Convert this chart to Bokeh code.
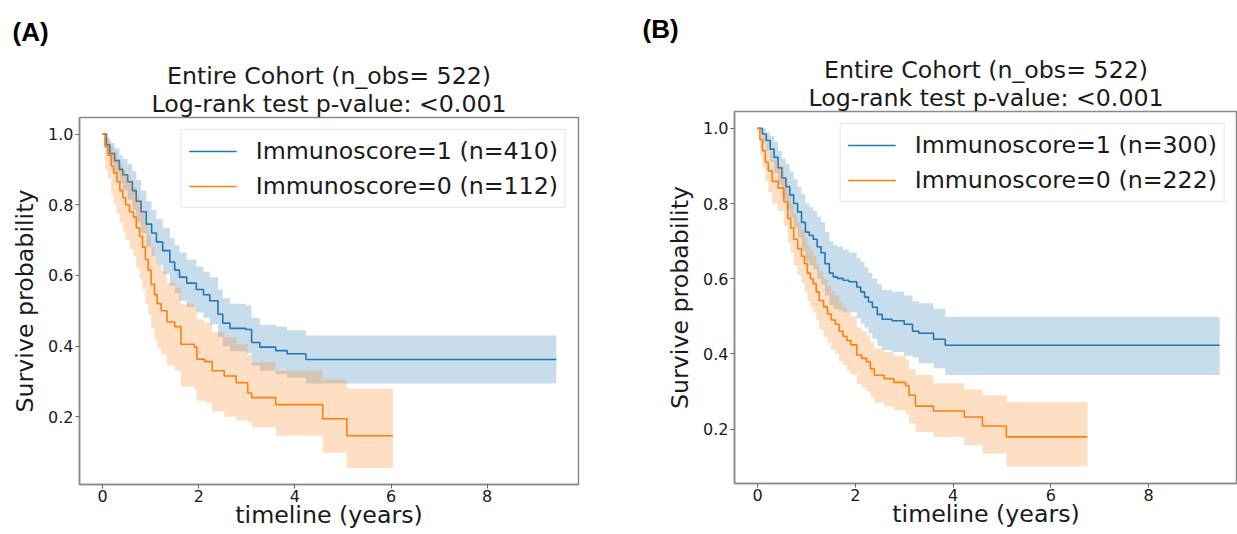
from bokeh.plotting import figure
from bokeh.models import Range1d, Title, Legend, LegendItem
from bokeh.layouts import row
from bokeh.embed import file_html
from bokeh.resources import INLINE

BLUE = "#1f77b4"
ORANGE = "#ff7f0e"
FONT = "DejaVu Sans"

# ---------------- Panel A data (years, survival probability) ----------------
a1_t = [0, 0.08, 0.15, 0.25, 0.35, 0.42, 0.52, 0.62, 0.70, 0.80, 0.91, 1.02, 1.12, 1.25, 1.40, 1.50, 1.60,
        1.75, 1.95, 2.10, 2.23, 2.40, 2.50, 2.65, 2.98, 3.10, 3.27, 3.60, 3.84, 4.23, 9.44]
a1_s = [1.0, 0.97, 0.945, 0.925, 0.90, 0.885, 0.865, 0.84, 0.81, 0.78, 0.745, 0.72, 0.695, 0.67, 0.638, 0.615,
        0.595, 0.578, 0.56, 0.545, 0.528, 0.49, 0.465, 0.45, 0.447, 0.41, 0.397, 0.387, 0.378, 0.362, 0.362]
a1_hi = [1.0, 0.99, 0.975, 0.96, 0.94, 0.93, 0.915, 0.895, 0.87, 0.84, 0.81, 0.785, 0.76, 0.735, 0.705, 0.685,
         0.665, 0.645, 0.625, 0.61, 0.595, 0.56, 0.535, 0.52, 0.515, 0.48, 0.46, 0.455, 0.445, 0.43, 0.43]
a1_lo = [1.0, 0.95, 0.915, 0.89, 0.86, 0.84, 0.815, 0.785, 0.75, 0.72, 0.68, 0.655, 0.63, 0.605, 0.57, 0.55,
         0.528, 0.51, 0.495, 0.48, 0.462, 0.425, 0.40, 0.385, 0.38, 0.345, 0.33, 0.32, 0.31, 0.294, 0.294]

a0_t = [0, 0.05, 0.11, 0.18, 0.23, 0.30, 0.36, 0.42, 0.48, 0.56, 0.64, 0.70, 0.77, 0.83, 0.89, 0.95, 1.01, 1.08,
        1.135, 1.22, 1.34, 1.50, 1.63, 1.91, 1.96, 2.12, 2.28, 2.53, 2.78, 3.02, 3.10, 3.60, 4.58, 5.08, 6.04]
a0_s = [1.0, 0.965, 0.94, 0.91, 0.89, 0.865, 0.84, 0.82, 0.80, 0.78, 0.765, 0.735, 0.71, 0.68, 0.645, 0.615,
        0.575, 0.545, 0.52, 0.50, 0.468, 0.455, 0.405, 0.397, 0.363, 0.356, 0.33, 0.315, 0.296, 0.267, 0.254,
        0.234, 0.194, 0.146, 0.146]
a0_hi = [1.0, 1.0, 0.985, 0.965, 0.95, 0.93, 0.915, 0.90, 0.885, 0.865, 0.85, 0.825, 0.80, 0.775, 0.745, 0.715,
         0.68, 0.655, 0.63, 0.61, 0.58, 0.565, 0.52, 0.51, 0.475, 0.465, 0.44, 0.425, 0.405, 0.375, 0.355,
         0.33, 0.305, 0.28, 0.28]
a0_lo = [1.0, 0.90, 0.875, 0.83, 0.80, 0.775, 0.75, 0.725, 0.70, 0.675, 0.655, 0.62, 0.59, 0.56, 0.52, 0.49,
         0.45, 0.42, 0.395, 0.375, 0.345, 0.33, 0.285, 0.275, 0.245, 0.24, 0.215, 0.20, 0.19, 0.185, 0.17,
         0.146, 0.098, 0.055, 0.055]

# ---------------- Panel B data ----------------
b1_t = [0, 0.10, 0.18, 0.26, 0.34, 0.42, 0.50, 0.58, 0.66, 0.74, 0.82, 0.90, 0.98, 1.06, 1.14, 1.22, 1.30,
        1.38, 1.47, 1.55, 1.63, 1.75, 1.87, 2.03, 2.11, 2.19, 2.27, 2.35, 2.45, 2.55, 2.75, 3.0, 3.17, 3.30,
        3.60, 3.84, 9.45]
b1_s = [1.0, 0.985, 0.968, 0.945, 0.923, 0.895, 0.868, 0.845, 0.823, 0.80, 0.778, 0.75, 0.724, 0.715, 0.705,
        0.685, 0.669, 0.64, 0.615, 0.605, 0.601, 0.596, 0.592, 0.578, 0.565, 0.551, 0.538, 0.524, 0.505, 0.492,
        0.488, 0.479, 0.46, 0.455, 0.439, 0.423, 0.423]
b1_hi = [1.0, 1.0, 0.99, 0.98, 0.965, 0.94, 0.92, 0.905, 0.885, 0.865, 0.845, 0.825, 0.80, 0.79, 0.78, 0.765,
         0.75, 0.725, 0.70, 0.69, 0.685, 0.678, 0.67, 0.655, 0.645, 0.63, 0.615, 0.60, 0.585, 0.57, 0.565,
         0.555, 0.54, 0.535, 0.52, 0.498, 0.498]
b1_lo = [1.0, 0.96, 0.94, 0.91, 0.88, 0.85, 0.815, 0.785, 0.76, 0.735, 0.71, 0.675, 0.645, 0.635, 0.625, 0.60,
         0.585, 0.555, 0.53, 0.52, 0.515, 0.51, 0.51, 0.495, 0.48, 0.47, 0.455, 0.44, 0.42, 0.41, 0.405, 0.395,
         0.39, 0.375, 0.362, 0.344, 0.344]

b0_t = [0, 0.05, 0.10, 0.16, 0.22, 0.30, 0.42, 0.54, 0.62, 0.68, 0.74, 0.82, 0.90, 0.96, 1.02, 1.08, 1.14,
        1.20, 1.26, 1.35, 1.43, 1.51, 1.59, 1.67, 1.75, 1.83, 1.91, 2.03, 2.13, 2.23, 2.31, 2.39, 2.59, 2.79,
        3.03, 3.10, 3.23, 3.60, 4.23, 4.60, 5.09, 6.75]
b0_s = [1.0, 0.97, 0.941, 0.91, 0.887, 0.859, 0.841, 0.805, 0.76, 0.735, 0.705, 0.68, 0.66, 0.64, 0.615, 0.60,
        0.587, 0.565, 0.542, 0.525, 0.506, 0.49, 0.479, 0.46, 0.447, 0.435, 0.424, 0.397, 0.388, 0.379, 0.36,
        0.343, 0.334, 0.324, 0.315, 0.29, 0.261, 0.248, 0.232, 0.208, 0.179, 0.179]
b0_hi = [1.0, 1.0, 0.985, 0.96, 0.94, 0.915, 0.90, 0.865, 0.825, 0.80, 0.775, 0.75, 0.73, 0.71, 0.69, 0.675,
         0.66, 0.64, 0.62, 0.60, 0.58, 0.565, 0.555, 0.54, 0.525, 0.51, 0.50, 0.47, 0.46, 0.45, 0.43, 0.415,
         0.405, 0.395, 0.385, 0.36, 0.344, 0.322, 0.306, 0.29, 0.272, 0.272]
b0_lo = [1.0, 0.93, 0.895, 0.86, 0.83, 0.80, 0.78, 0.74, 0.695, 0.67, 0.635, 0.61, 0.59, 0.565, 0.54, 0.525,
         0.51, 0.49, 0.465, 0.445, 0.43, 0.41, 0.40, 0.38, 0.37, 0.355, 0.345, 0.32, 0.31, 0.30, 0.285, 0.27,
         0.26, 0.25, 0.24, 0.215, 0.192, 0.179, 0.157, 0.134, 0.10, 0.10]

x_ticks = [0, 2, 4, 6, 8]
y_ticks = [0.2, 0.4, 0.6, 0.8, 1.0]

title_line1 = "Entire Cohort (n_obs= 522)"
title_line2 = "Log-rank test p-value: <0.001"
labels_a = ["Immunoscore=1 (n=410)", "Immunoscore=0 (n=112)"]
labels_b = ["Immunoscore=1 (n=300)", "Immunoscore=0 (n=222)"]

H = 532


def make_panel(width, borders, xr, yr, groups, labels, tag, tag_offset, tag_standoff):
    left, right, top, bottom = borders
    p = figure(width=width, height=H, x_range=Range1d(*xr), y_range=Range1d(*yr),
               output_backend="svg", toolbar_location=None,
               min_border_left=left, min_border_right=right,
               min_border_top=top, min_border_bottom=bottom)
    p.frame_align = False
    p.title.visible = False
    p.xgrid.visible = False
    p.ygrid.visible = False
    p.outline_line_color = "#8a8a8a"
    p.outline_line_width = 1.5
    p.background_fill_color = "white"
    p.border_fill_color = "white"

    lines = []
    for (t, s, lo, hi), color in zip(groups, [BLUE, ORANGE]):
        p.varea_step(x=t, y1=lo, y2=hi, step_mode="after", fill_color=color, fill_alpha=0.25)
        ln = p.step(x=t, y=s, mode="after", line_color=color, line_width=1.6)
        lines.append(ln)

    legend = Legend(items=[LegendItem(label=lab, renderers=[ln]) for lab, ln in zip(labels, lines)],
                    location="top_right")
    legend.label_text_font = FONT
    legend.label_text_font_size = "23.7px"
    legend.label_text_color = "#1a1a1a"
    legend.glyph_width = 48
    legend.glyph_height = 28
    legend.label_height = 28
    legend.label_standoff = 19
    legend.spacing = 7
    legend.padding = 7
    legend.margin = 12
    legend.border_line_color = "#d0d0d0"
    legend.border_line_width = 1
    legend.background_fill_alpha = 0.85
    p.add_layout(legend)

    for ax in (p.xaxis, p.yaxis):
        ax.axis_line_color = "#8a8a8a"
        ax.axis_line_width = 1.5
        ax.major_tick_line_color = "#666666"
        ax.major_tick_in = 0
        ax.major_tick_out = 4
        ax.minor_tick_line_color = None
        ax.major_label_text_font = FONT
        ax.major_label_text_font_size = "16px"
        ax.major_label_text_color = "#1a1a1a"
        ax.axis_label_text_font = FONT
        ax.axis_label_text_font_size = "23.7px"
        ax.axis_label_text_font_style = "normal"
        ax.axis_label_text_color = "#1a1a1a"
    p.xaxis.major_label_standoff = 1
    p.yaxis.major_label_standoff = 2
    p.xaxis.ticker = x_ticks
    p.yaxis.ticker = y_ticks
    p.yaxis.major_label_overrides = {v: f"{v:.1f}" for v in y_ticks}
    p.xaxis.axis_label = "timeline (years)"
    p.yaxis.axis_label = "Survive probability"
    p.xaxis.axis_label_standoff = -4
    p.yaxis.axis_label_standoff = 6

    # titles stack outward from the frame: second line, first line, then the panel tag
    p.add_layout(Title(text=title_line2, align="center", text_font=FONT, text_font_size="23.7px",
                       text_font_style="normal", text_color="#1a1a1a", standoff=0), "above")
    p.add_layout(Title(text=title_line1, align="center", text_font=FONT, text_font_size="23.7px",
                       text_font_style="normal", text_color="#1a1a1a", standoff=-4), "above")
    p.add_layout(Title(text=tag, align="left", offset=tag_offset, text_font="Liberation Sans",
                       text_font_size="26px", text_font_style="bold", text_color="black",
                       standoff=tag_standoff), "above")
    return p


# panel A: frame 79..578 x 117..484 ; panel B (starts at 620): frame 734..1237 x 111..483
pA = make_panel(620, (79, 42, 117, H - 484), (-0.48, 9.9), (0.008, 1.047),
                [(a1_t, a1_s, a1_lo, a1_hi), (a0_t, a0_s, a0_lo, a0_hi)], labels_a, "(A)", -67, 29)
pB = make_panel(617, (114, 0, 111, H - 483), (-0.47, 9.816), (0.055, 1.045),
                [(b1_t, b1_s, b1_lo, b1_hi), (b0_t, b0_s, b0_lo, b0_hi)], labels_b, "(B)", -92, 23)

layout = row(pA, pB)
open("out.html", "w").write(file_html(layout, INLINE))
